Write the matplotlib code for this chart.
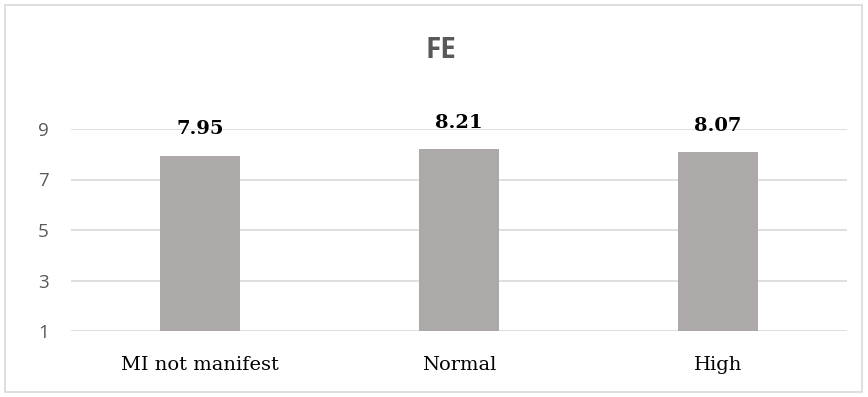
import matplotlib.pyplot as plt
from matplotlib.patches import Rectangle

# data
categories = ['MI not manifest', 'Normal', 'High']
values = [7.95, 8.21, 8.07]
y_ticks = [1, 3, 5, 7, 9]

fig = plt.figure(figsize=(8.68, 3.97), dpi=100)
ax = fig.add_axes([71 / 868, 1 - 331 / 397, 776 / 868, (331 - 129) / 397])

base = y_ticks[0]
x = range(len(categories))
bars = ax.bar(x, [v - base for v in values], bottom=base, width=0.31,
              color='#ADA9A8', zorder=3)

for xi, v in zip(x, values):
    ax.text(xi, v + 0.68, f'{v:.2f}', ha='center', va='bottom',
            fontsize=14, fontweight='bold', family='DejaVu Serif', color='black')

ax.set_xlim(-0.5, len(categories) - 0.5)
ax.set_ylim(1, 9)
ax.set_yticks(y_ticks)
ax.set_xticks(list(x))
ax.set_xticklabels(categories, family='DejaVu Serif', fontsize=14, color='black')
ax.tick_params(axis='x', length=0, pad=18)
ax.tick_params(axis='y', length=0, pad=16, labelsize=13.5, labelcolor='#595959')
for lab in ax.get_yticklabels():
    lab.set_family('Open Sans')
ax.grid(axis='y', color='#D9D9D9', linewidth=1.2, zorder=0)
for s in ax.spines.values():
    s.set_visible(False)

fig.text(441 / 868, 1 - 50 / 397, 'FE', ha='center', va='center',
         fontsize=20, fontweight='bold', color='#595959', family='Open Sans')

fig.patches.append(Rectangle((5 / 868, 5 / 397), 857 / 868, 387 / 397,
                             transform=fig.transFigure, fill=False,
                             edgecolor='#D9D9D9', linewidth=1.2))

fig.savefig('out.png', dpi=100)
